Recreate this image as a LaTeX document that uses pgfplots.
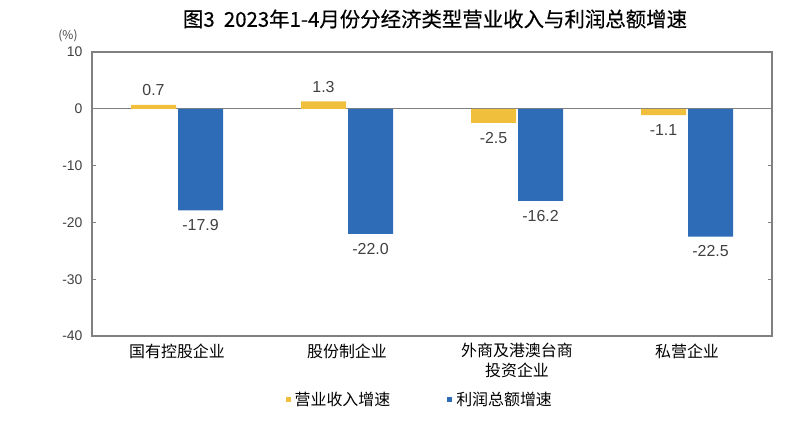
\documentclass[border=0pt]{standalone}
\usepackage{pgfplots}
\pgfplotsset{compat=1.18}
\usepackage{fontspec}
\setmainfont{Liberation Sans}
\newfontfamily\cjk{Noto Sans CJK SC}
\newfontfamily\cjktitle[FakeBold=0.4]{Noto Sans CJK SC}
\definecolor{incomeC}{HTML}{F0C03C}
\definecolor{profitC}{HTML}{2E6CB8}
\definecolor{frameC}{HTML}{808080}
\definecolor{txtC}{HTML}{404040}

\begin{document}
\begin{tikzpicture}
\path[use as bounding box] (0,0) rectangle (800bp,425bp);
\node[font=\cjktitle\fontsize{20.5}{23}\selectfont] at (435bp,406bp)
  {图3\ \ 2023年1-4月份分经济类型营业收入与利润总额增速};
\node[font=\cjk\fontsize{12}{14}\selectfont, text=txtC] at (68bp,389bp) {(\%)};
\begin{axis}[
    at={(92bp,89bp)}, anchor=south west,
    width=680bp, height=284bp, scale only axis,
    ybar, bar width=45bp, ybar=2bp,
    xmin=-0.5, xmax=3.5, ymin=-40, ymax=10,
    ytick={-40,-30,...,10},
    xtick={0,1,2,3},
    xticklabels={国有控股企业, 股份制企业, {外商及港澳台商\\投资企业}, 私营企业},
    xticklabel style={font=\cjk\fontsize{16}{20}\selectfont, align=center, text=black, yshift=-4bp},
    yticklabel style={font=\fontsize{14}{16}\selectfont, text=txtC, xshift=-6bp},
    /pgf/number format/assume math mode=true,
    x tick style={draw=none},
    tick align=inside, major tick length=4bp,
    y tick style={frameC, line width=1bp},
    axis line style={frameC, line width=1.2bp},
    extra y ticks={0}, extra y tick labels={},
    extra y tick style={grid=major, major grid style={frameC, line width=1.2bp}},
    nodes near coords, nodes near coords align={vertical},
    every node near coord/.append style={font=\fontsize{16}{18}\selectfont, text=txtC,
      inner ysep=9bp,
      /pgf/number format/.cd, fixed, fixed zerofill, precision=1, assume math mode=true},
    legend style={at={(0.482,-0.222)}, anchor=center, draw=none, fill=none,
      font=\cjk\fontsize{16}{19}\selectfont, legend columns=2,
      /tikz/every even column/.append style={column sep=55bp},
      /tikz/every odd column/.append style={column sep=2bp}},
]
\addplot[fill=incomeC, draw=none,
  legend image code/.code={\fill[incomeC] (0bp,-2.5bp) rectangle (5bp,2.5bp);}]
  coordinates {(0,0.7) (1,1.3) (2,-2.5) (3,-1.1)};
\addplot[fill=profitC, draw=none,
  legend image code/.code={\fill[profitC] (0bp,-2.5bp) rectangle (5bp,2.5bp);}]
  coordinates {(0,-17.9) (1,-22.0) (2,-16.2) (3,-22.5)};
\legend{营业收入增速, 利润总额增速}
\end{axis}
\end{tikzpicture}
\end{document}
